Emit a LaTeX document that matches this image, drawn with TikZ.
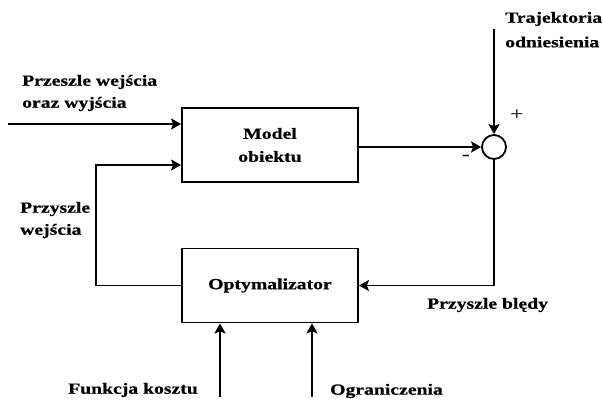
\documentclass[tikz,border=0pt]{standalone}
\usepackage{fontspec}
\setmainfont{Liberation Serif}[FakeStretch=1.27,BoldFeatures={FakeBold=0.6}]
\usetikzlibrary{arrows.meta}
\begin{document}
\begin{tikzpicture}[x=1pt,y=-1pt,
  every node/.style={font=\fontsize{15.5}{23}\selectfont\bfseries},
  blockbox/.style={draw,line width=1.8pt,minimum width=176pt,minimum height=74pt,align=center,inner sep=0pt},
  lbl/.style={align=left,anchor=west,inner sep=0pt},
  sign/.style={inner sep=0pt,font=\fontsize{19}{19}\selectfont},
  conn/.style={line width=1.8pt},
  arr/.style={conn,-{Stealth[length=10pt,width=11pt,inset=2pt]}}]
\useasboundingbox (0,0) rectangle (603,402);
\node[blockbox] (model) at (270,145) {Model\\obiektu};
\node[blockbox] (opt) at (270,285.5) {Optymalizator};
\node[draw,circle,line width=1.8pt,minimum size=24pt,inner sep=0pt] (sum) at (494,147) {};
\coordinate (inl) at (8,124);
\coordinate (reftop) at (494,29);
\coordinate (corner1) at (494,285.5);
\coordinate (corner2) at (96,285.5);
\coordinate (corner3) at (96,165);
\coordinate (fk) at (220,397);
\coordinate (og) at (312,397);
\draw[arr] (inl) -- (inl -| model.west);
\draw[arr] (model.east |- sum.west) -- (sum.west);
\draw[arr] (reftop) -- (sum.north);
\draw[arr] (sum.south) -- (corner1) -- (opt.east);
\draw[arr] (opt.west) -- (corner2) -- (corner3) -- (corner3 -| model.west);
\draw[arr] (fk) -- (fk |- opt.south);
\draw[arr] (og) -- (og |- opt.south);
\node[lbl] (t1) at (22,82) {Przeszle wejścia};
\node[lbl] (t2) at (22,104) {oraz wyjścia};
\node[lbl] (t3) at (20,209) {Przyszle};
\node[lbl] (t4) at (20,231) {wejścia};
\node[lbl] (t5) at (505,19) {Trajektoria};
\node[lbl] (t6) at (505,42) {odniesienia};
\node[lbl] (t7) at (427,305) {Przyszle blędy};
\node[lbl] (t8) at (68,390) {Funkcja kosztu};
\node[lbl] (t9) at (330,391) {Ograniczenia};
\node[sign] (plus) at (517,115) {+};
\node[sign] (minus) at (466,158) {-};
\end{tikzpicture}
\end{document}
